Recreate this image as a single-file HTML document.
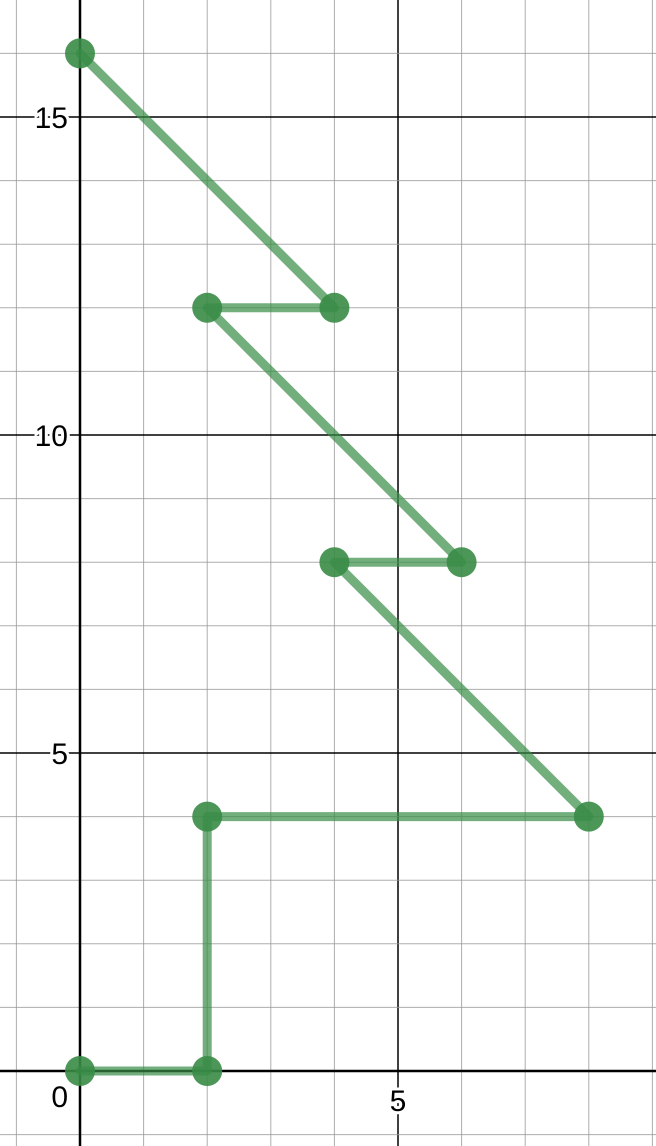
<!DOCTYPE html>
<html><head><meta charset="utf-8">
<style>
html,body{margin:0;padding:0;background:#fff;}
svg{display:block;}
text{font-family:"Liberation Sans",Arial,sans-serif;}
</style></head>
<body>
<svg id="chart" width="656" height="1146" viewBox="0 0 656 1146" xmlns="http://www.w3.org/2000/svg">
<g id="grid"></g>
<g id="axes"></g>
<g id="labels"></g>
<g id="series"></g>
</svg>
<script>
const xValues = [0, 2, 2, 8, 4, 6, 2, 4, 0];
const yValues = [0, 0, 4, 4, 8, 8, 12, 12, 16];
const xTickLabels = ["5"];
const yTickLabels = ["5", "10", "15"];

const S = 63.6, X0 = 80, Y0 = 1071;
const sx = v => X0 + v * S;
const sy = v => Y0 - v * S;
const NS = "http://www.w3.org/2000/svg";
function mk(tag, attrs, parent){
  const e = document.createElementNS(NS, tag);
  for (const k in attrs) e.setAttribute(k, attrs[k]);
  parent.appendChild(e);
  return e;
}
const grid = document.getElementById('grid');
const axes = document.getElementById('axes');
const labels = document.getElementById('labels');
const series = document.getElementById('series');

for (let i = -1; i <= 10; i++) {
  const x = sx(i);
  const major = i % 5 === 0 && i !== 0;
  const l = mk('line', {x1:x, y1:0, x2:x, y2:1146, stroke: major ? '#000' : '#999', 'stroke-width': major ? 1.5 : 1, 'stroke-opacity': major ? 1 : 0.8}, grid);
  
  
}
for (let j = -1; j <= 17; j++) {
  const y = sy(j);
  const major = j % 5 === 0 && j !== 0;
  const l = mk('line', {x1:0, y1:y, x2:656, y2:y, stroke: major ? '#000' : '#999', 'stroke-width': major ? 1.5 : 1, 'stroke-opacity': major ? 1 : 0.8}, grid);
  
  
}
const xa = mk('line', {x1:0, y1:sy(0), x2:656, y2:sy(0), stroke:'#000', 'stroke-width':2.5}, axes);


const ya = mk('line', {x1:sx(0), y1:0, x2:sx(0), y2:1146, stroke:'#000', 'stroke-width':2.5}, axes);



function txt(s, x, y, anchor, name){
  const bg = mk('text', {x:x, y:y, 'font-size':30, 'text-anchor':anchor, fill:'#fff', stroke:'#fff', 'stroke-width':6}, labels);
  bg.textContent = s;
  
  
  const t = mk('text', {x:x, y:y, 'font-size':30, 'text-anchor':anchor, fill:'#000'}, labels);
  t.textContent = s;
  
  
}
yTickLabels.forEach(s => txt(s, sx(0) - 12, sy(+s) + 11, 'end', 'y-tick-label'));
xTickLabels.forEach(s => txt(s, sx(+s), sy(0) + 40, 'middle', 'x-tick-label'));
txt('0', sx(0) - 12, sy(0) + 36, 'end', 'origin-label');

const pts = xValues.map((v, i) => sx(v) + ',' + sy(yValues[i])).join(' ');
const pl = mk('polyline', {points: pts, fill:'none', stroke:'#388c46', 'stroke-width':9, 'stroke-opacity':0.7, 'stroke-linejoin':'round', 'stroke-linecap':'round'}, series);


xValues.forEach((v, i) => {
  const c = mk('circle', {cx:sx(v), cy:sy(yValues[i]), r:15, fill:'#388c46', 'fill-opacity':0.9}, series);
  
  
});
</script>
</body></html>
